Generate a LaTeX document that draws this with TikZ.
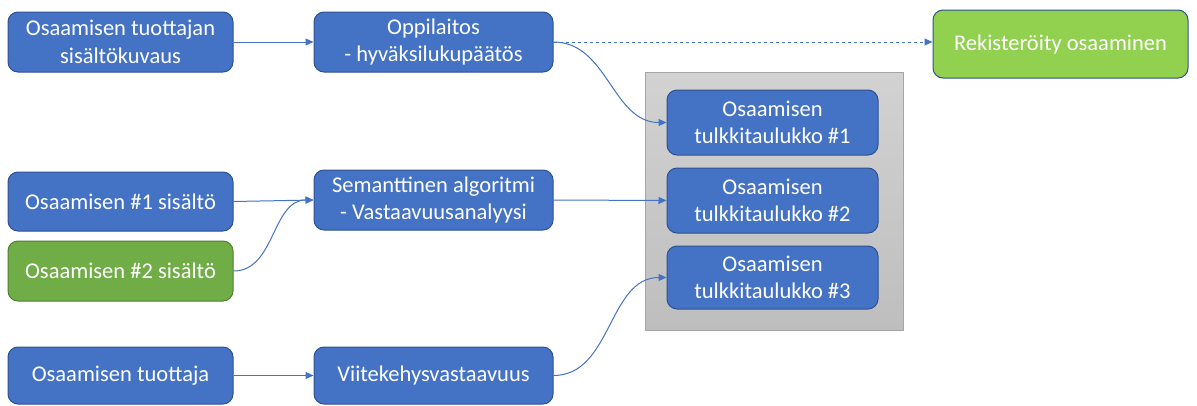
\documentclass[tikz,border=0pt]{standalone}
\usepackage{fontspec}
\setmainfont{Carlito}
\usetikzlibrary{arrows.meta}
\definecolor{boxblue}{HTML}{4472C4}
\definecolor{boxedge}{HTML}{2F528F}
\definecolor{boxgreen}{HTML}{70AD47}
\definecolor{greenedge}{HTML}{507E32}
\definecolor{lightgreen}{HTML}{92D050}
\definecolor{paneltop}{HTML}{D2D2D2}
\definecolor{panelbottom}{HTML}{BEBEBE}
\definecolor{paneledge}{HTML}{A5A5A5}
\begin{document}
\begin{tikzpicture}[x=1pt,y=-1pt,
  >={Triangle[length=8pt,width=7pt]},
  box/.style={draw=boxedge,fill=boxblue,line width=1pt,rounded corners=10pt,text=white,
    align=center,inner sep=0pt,font=\fontsize{22.5}{27.5}\selectfont},
  conn/.style={->,boxblue,line width=1pt}]
\useasboundingbox (0,0) rectangle (1197,405);
\fill[top color=paneltop,bottom color=panelbottom,draw=paneledge,line width=1pt]
  (645,72) rectangle (903,330);
\node[box,minimum width=225pt,minimum height=60pt] (kuvaus) at (120.5,42) {Osaamisen tuottajan\\sisältökuvaus};
\node[box,minimum width=239pt,minimum height=60pt] (oppi) at (433.5,42) {Oppilaitos\\- hyväksilukupäätös};
\node[box,fill=lightgreen,minimum width=255pt,minimum height=68pt] (rek) at (1060.5,44) {Rekisteröity osaaminen};
\node[box,minimum width=211pt,minimum height=65pt] (t1) at (772.5,122.5) {Osaamisen\\tulkkitaulukko \#1};
\node[box,minimum width=211pt,minimum height=65pt] (t2) at (772.5,200.5) {Osaamisen\\tulkkitaulukko \#2};
\node[box,minimum width=211pt,minimum height=63pt] (t3) at (772.5,277.5) {Osaamisen\\tulkkitaulukko \#3};
\node[box,minimum width=225pt,minimum height=59pt] (sis1) at (120.5,201.5) {Osaamisen \#1 sisältö};
\node[box,fill=boxgreen,draw=greenedge,minimum width=225pt,minimum height=60pt] (sis2) at (120.5,271) {Osaamisen \#2 sisältö};
\node[box,minimum width=239pt,minimum height=60pt] (sem) at (433.5,200) {Semanttinen algoritmi\\- Vastaavuusanalyysi};
\node[box,minimum width=225pt,minimum height=57pt] (tuott) at (120.5,375.5) {Osaamisen tuottaja};
\node[box,minimum width=239pt,minimum height=57pt] (viite) at (433.5,375.5) {Viitekehysvastaavuus};
\draw[conn] (kuvaus) -- (oppi);
\draw[conn,dashed] (oppi.east) -- (oppi.east -| rek.west);
\draw[conn] (oppi.east) to[out=0,in=180] (t1.west);
\draw[conn] (sis1.east) -- (sem.west);
\draw[conn] (sis2.east) to[out=0,in=180] (sem.west);
\draw[conn] (sem.east) -- (t2.west);
\draw[conn] (tuott) -- (viite);
\draw[conn] (viite.east) to[out=0,in=180] (t3.west);
\end{tikzpicture}
\end{document}
